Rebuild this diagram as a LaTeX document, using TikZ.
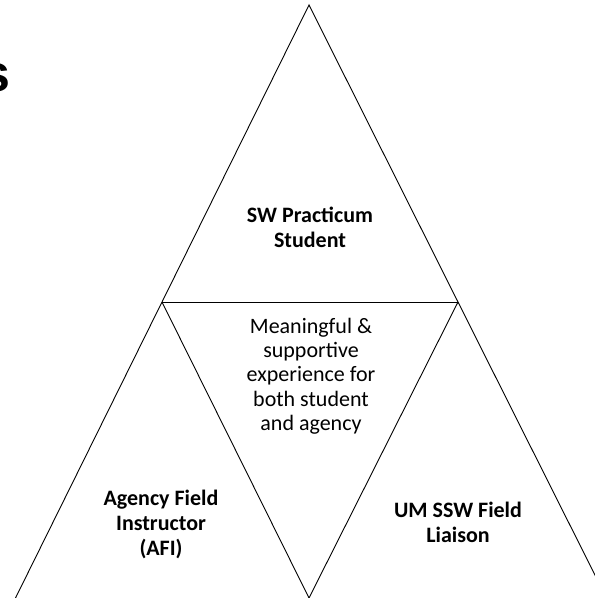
\documentclass[tikz,border=0pt]{standalone}
\usepackage{fontspec}
\setmainfont{Carlito}
\newfontfamily\headfont{Liberation Sans}
\usetikzlibrary{positioning}

\begin{document}
\begin{tikzpicture}[x=1pt,y=-1pt,
  edge/.style={draw,line width=0.9pt,black},
  role/.style={align=center,inner sep=0pt,font=\fontsize{22}{25}\selectfont\bfseries},
  goal/.style={align=center,inner sep=0pt,font=\fontsize{22}{24.3}\selectfont}
]
  \useasboundingbox (0,0) rectangle (595,598);
  \clip (0,0) rectangle (595,598);

  % corners of the triangles
  \coordinate (apex) at (309,5);
  \coordinate (midl) at (162,302);
  \coordinate (midr) at (458,302);
  \coordinate (botl) at (15.5,598);
  \coordinate (botm) at (309,598);
  \coordinate (botr) at (606.5,598);

  \draw[edge] (botl) -- (apex) -- (botr);
  \draw[edge] (midl) -- (midr);
  \draw[edge] (midl) -- (botm) -- (midr);

  % cut-off heading
  \node[anchor=base west,inner sep=0pt,font=\headfont\fontsize{52}{60}\selectfont\bfseries] (head) at (-19,91) {s};

  \node[role] (student) at (310,227) {SW Practicum\\Student};
  \node[goal] (shared) at (311,376) {Meaningful \&\\supportive\\experience for\\both student\\and agency};
  \node[role] (afi) at (161,524) {Agency Field\\Instructor\\(AFI)};
  \node[role] (liaison) at (458,522.5) {UM SSW Field\\Liaison};
\end{tikzpicture}
\end{document}
